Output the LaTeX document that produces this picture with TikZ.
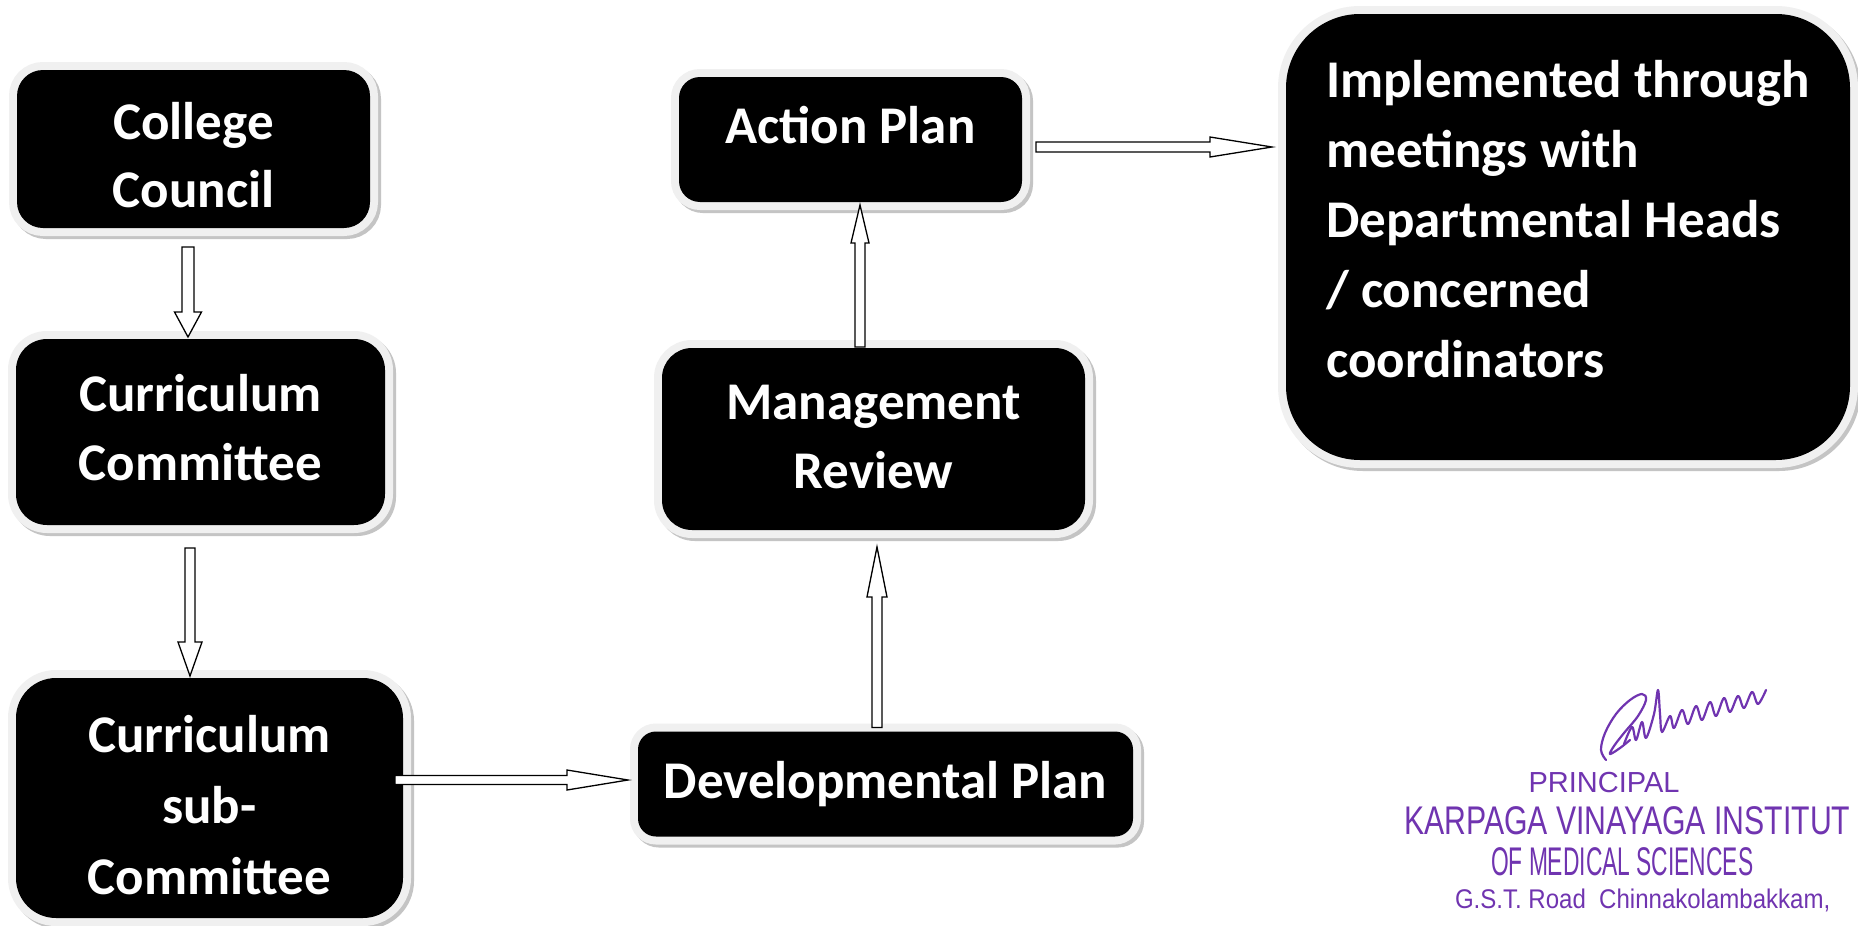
\documentclass[tikz,border=0pt]{standalone}
\usepackage{fontspec}
\setmainfont{Carlito}
\newfontfamily\stampfont{Liberation Sans}
\usetikzlibrary{calc}
\definecolor{glowc}{RGB}{240,240,240}
\definecolor{shadc}{RGB}{196,196,196}
\definecolor{stampc}{RGB}{112,52,176}
\tikzset{
  box/.style={fill=black, text=white, inner sep=0pt, outer sep=0pt, align=center,
    font=\fontsize{53}{69}\selectfont\bfseries,
    preaction={draw=shadc, line width=16pt, transform canvas={shift={(3pt,-3pt)}}},
    preaction={draw=glowc, line width=16pt}},
  blockarrow/.style={draw=black, fill=white, line width=1.3pt, line join=miter},
  stamp/.style={text=stampc, inner sep=0pt, outer sep=0pt, font=\stampfont},
  sig/.style={draw=stampc, line width=2.2pt, line cap=round, line join=round}
}
% start, end, shaft half width, head half width, head length
\newcommand\barrow[5]{%
  \draw[blockarrow] let \p1=#1, \p2=#2,
    \n1={atan2(\y2-\y1,\x2-\x1)}, \n2={veclen(\x2-\x1,\y2-\y1)} in
    [shift={(\p1)}, rotate=\n1]
    (0pt,-#3pt) -- (\n2-#5pt,-#3pt) -- (\n2-#5pt,-#4pt) -- (\n2,0pt)
    -- (\n2-#5pt,#4pt) -- (\n2-#5pt,#3pt) -- (0pt,#3pt) -- cycle;}
\begin{document}
\begin{tikzpicture}[x=1pt,y=-1pt]
\useasboundingbox (0,0) rectangle (1858,926);
\fill[white] (0,0) rectangle (1858,926);

\node[box, minimum width=353pt, minimum height=158pt, rounded corners=26pt,
  font=\fontsize{53}{68}\selectfont\bfseries] (cc) at (193.5,149)
  {\rule{0pt}{50pt}College\\Council};
\node[box, minimum width=369pt, minimum height=186pt, rounded corners=31pt] (currc) at (200.5,432)
  {Curriculum\\Committee\rule[-10pt]{0pt}{0pt}};
\node[box, minimum width=387pt, minimum height=240pt, rounded corners=40pt,
  font=\fontsize{53}{71}\selectfont\bfseries] (sub) at (209.5,798)
  {\rule{0pt}{51pt}Curriculum\\sub-\\Committee};
\node[box, minimum width=495pt, minimum height=105pt, rounded corners=18pt] (dev) at (885.5,784)
  {Developmental Plan};
\node[box, minimum width=423pt, minimum height=182pt, rounded corners=30pt] (mgmt) at (873.5,439)
  {Management\\Review\rule[-4pt]{0pt}{0pt}};
\node[box, minimum width=343pt, minimum height=125pt, rounded corners=21pt] (act) at (850.5,139.5)
  {Action Plan\rule[-30pt]{0pt}{0pt}};
\node[box, minimum width=564pt, minimum height=446pt, rounded corners=74pt,
  align=left, font=\fontsize{53}{70}\selectfont\bfseries] (impl) at (1568,237)
  {Implemented through\\meetings with\\Departmental Heads\\/ concerned\\coordinators\rule[-37pt]{0pt}{0pt}};

\barrow{($(cc.south)+(-5.5,19)$)}{($(currc.north)+(-12.5,-2)$)}{6}{13.5}{25}
\barrow{($(currc.south)+(-10.5,23)$)}{($(sub.north)+(-19.5,-2)$)}{5}{12}{34}
\barrow{($(sub.east)+(-8,-18)$)}{($(dev.west)+(-10,-4)$)}{4.5}{10}{61}
\barrow{($(dev.north)+(-8.5,-4)$)}{($(mgmt.south)+(3.5,17)$)}{5}{10}{50}
\barrow{($(mgmt.north)+(-13.5,-1)$)}{($(act.south)+(9.5,3)$)}{5}{9}{38}
\barrow{($(act.east)+(14,7.5)$)}{($(impl.west)+(-14,-90)$)}{5}{10}{62}

% stamp: signature
\draw[sig] plot[smooth, tension=0.6] coordinates {(1606,760) (1601,750) (1605,733) (1616,714) (1630,700) (1642,694) (1646,700) (1638,716) (1624,733) (1614,746) (1610,754) (1620,748) (1630,740)};
\draw[sig] plot[smooth, tension=0.55] coordinates {(1624,744) (1632,727) (1636,740) (1642,722) (1646,738) (1654,714) (1658,690) (1660,714) (1662,732) (1670,716) (1674,728) (1682,710) (1688,724) (1696,706) (1702,720) (1710,702) (1716,716) (1724,698) (1730,712) (1738,696) (1744,708) (1752,692) (1758,704) (1766,690)};
\node[stamp, anchor=base, font=\stampfont\fontsize{29}{29}\selectfont] (s1) at (1604,792) {PRINCIPAL};
\node[stamp, anchor=base west, font=\stampfont\fontsize{40}{40}\selectfont, xscale=0.755, transform shape] (s2) at (1404,834) {KARPAGA VINAYAGA INSTITUT};
\node[stamp, anchor=base west, font=\stampfont\fontsize{40}{40}\selectfont, xscale=0.57, transform shape] (s3) at (1491,875) {OF MEDICAL SCIENCES};
\node[stamp, anchor=base west, font=\stampfont\fontsize{27}{27}\selectfont, xscale=0.89, transform shape] (s4) at (1455,908) {G.S.T. Road\ \ Chinnakolambakkam,};
\end{tikzpicture}
\end{document}
